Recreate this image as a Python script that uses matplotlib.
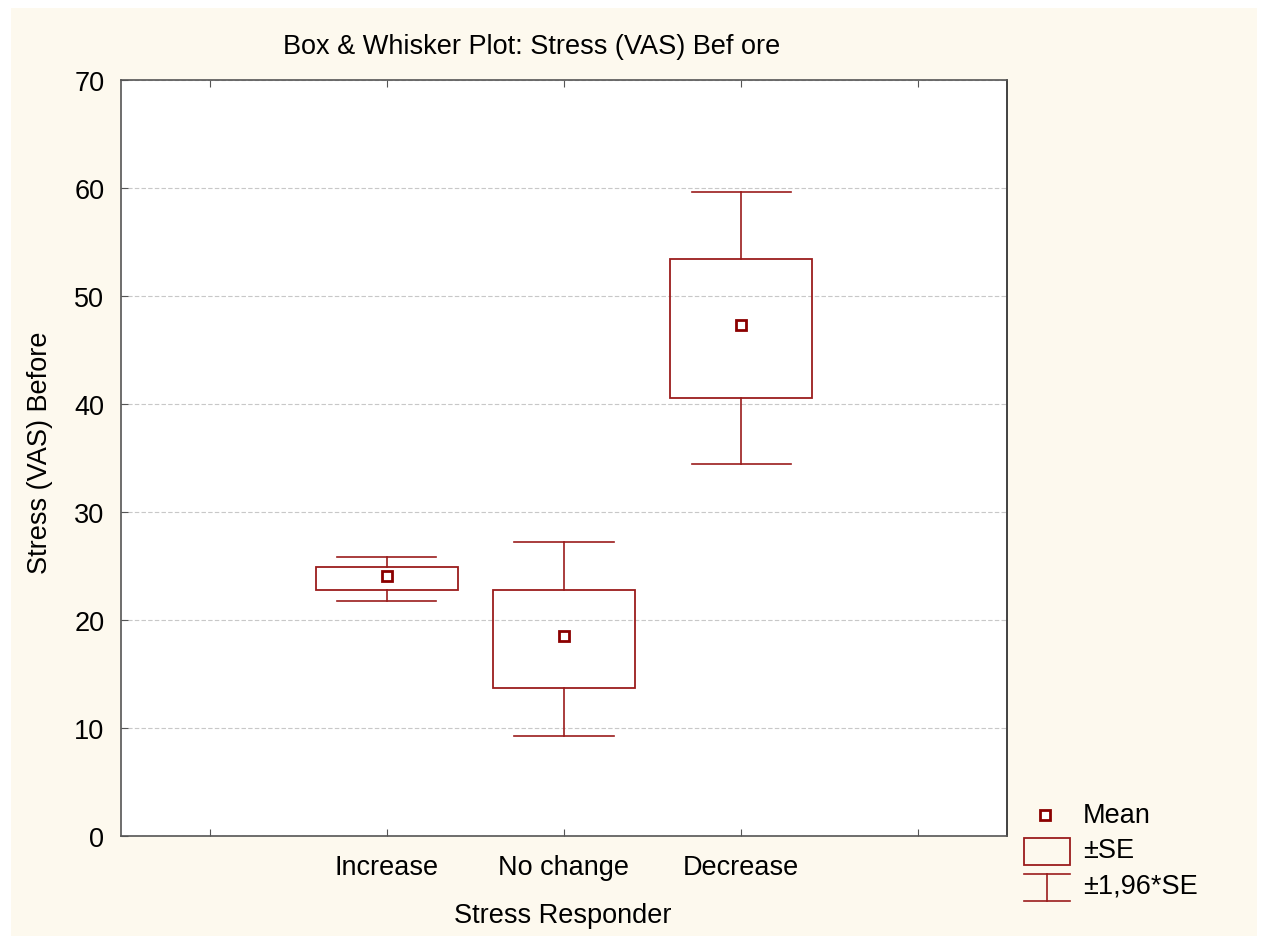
import numpy as np
import matplotlib
matplotlib.use("Agg")
import matplotlib.pyplot as plt
from matplotlib.patches import Rectangle

plt.rcParams['font.family'] = ['Liberation Sans', 'DejaVu Sans']

# data
groups = ['Increase', 'No change', 'Decrease']
means = [24.1, 18.5, 47.3]
se_lo = [22.8, 13.7, 40.6]
se_hi = [24.9, 22.8, 53.4]
ci_lo = [21.8, 9.3, 34.4]
ci_hi = [25.8, 27.2, 59.6]

red = '#9b1c1c'
bg = '#fdf9ee'
fs = 19.5

fig = plt.figure(figsize=(12.62, 9.37), dpi=100, facecolor='white')
# cream panel with a thin white border
fig.patches.append(Rectangle((11/1262, 0), (1257-11)/1262, 1-9/937,
                             transform=fig.transFigure, facecolor=bg,
                             edgecolor='none', zorder=-10))

ax = fig.add_axes([121/1262, 1-837/937, (1007-121)/1262, (837-81)/937])
ax.set_facecolor('white')

pos = np.arange(1, len(groups) + 1)
box_w = 0.8
cap_w = 0.56
for x, m, lo, hi, wlo, whi in zip(pos, means, se_lo, se_hi, ci_lo, ci_hi):
    ax.add_patch(Rectangle((x - box_w/2, lo), box_w, hi - lo, fill=False,
                           edgecolor=red, lw=1.3, zorder=3))
    ax.plot([x, x], [hi, whi], color=red, lw=1.2, zorder=3)
    ax.plot([x, x], [wlo, lo], color=red, lw=1.2, zorder=3)
    ax.plot([x - cap_w/2, x + cap_w/2], [whi, whi], color=red, lw=1.2, zorder=3)
    ax.plot([x - cap_w/2, x + cap_w/2], [wlo, wlo], color=red, lw=1.2, zorder=3)
    ax.plot(x, m, 's', ms=7, mfc='white', mec='#8b0000', mew=2, zorder=4)

ax.set_xlim(-0.5, 4.5)
ax.set_ylim(0, 70)
ax.set_xticks(range(5))
ax.set_xticklabels([''] + groups + [''])
ax.set_yticks(range(0, 71, 10))
ax.tick_params(axis='both', direction='in', top=True, length=5,
               labelsize=fs, color='#555555')
ax.tick_params(axis='y', right=False, pad=12)
ax.tick_params(axis='x', pad=13)
for s in ax.spines.values():
    s.set_color('#555555')
    s.set_linewidth(1.2)
ax.spines['right'].set_color('#222222')
ax.yaxis.grid(True, ls=(0, (4, 2)), color='#c8c8c8', lw=0.8)
ax.set_axisbelow(True)

fig.text(532/1262, 1-47/937, 'Box & Whisker Plot: Stress (VAS) Bef ore',
         ha='center', va='center', fontsize=fs)
fig.text(40/1262, 1-453/937, 'Stress (VAS) Before', rotation=90,
         ha='center', va='center', fontsize=fs)
fig.text(563/1262, 1-916/937, 'Stress Responder', ha='center', va='center',
         fontsize=fs)

# legend
lg = fig.add_axes([1015/1262, 1-905/937, 240/1262, 110/937])
lg.set_xlim(0, 240)
lg.set_ylim(110, 0)
lg.axis('off')
lg.plot(30, 21, 's', ms=7, mfc='white', mec='#8b0000', mew=2)
lg.add_patch(Rectangle((9, 44), 46, 27, fill=False, edgecolor=red, lw=1.3))
lg.plot([9, 55], [80, 80], color=red, lw=1.2)
lg.plot([9, 55], [107, 107], color=red, lw=1.2)
lg.plot([32, 32], [80, 107], color=red, lw=1.2)
lg.text(68, 21, 'Mean', va='center', fontsize=fs)
lg.text(68, 56, '±SE', va='center', fontsize=fs)
lg.text(68, 92, '±1,96*SE', va='center', fontsize=fs)

fig.savefig('out.png', dpi=100, facecolor='white')
